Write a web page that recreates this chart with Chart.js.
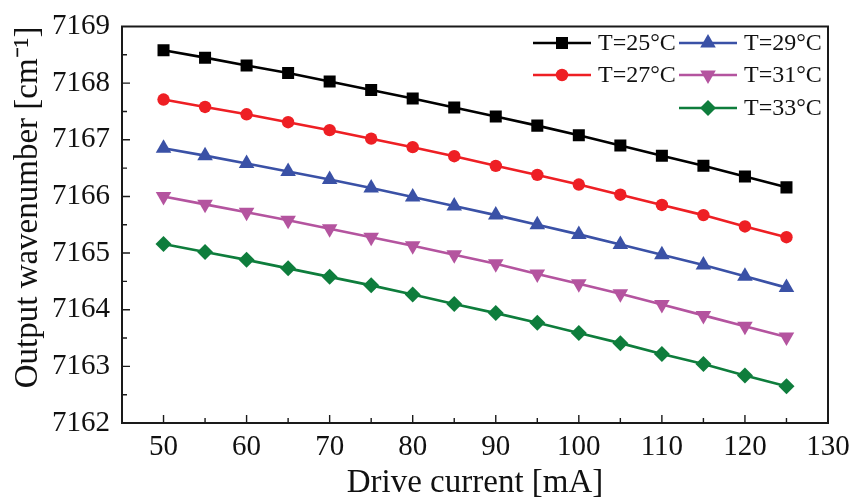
<!DOCTYPE html>
<html>
<head>
<meta charset="utf-8">
<script src="https://cdn.jsdelivr.net/npm/chart.js@4.4.1/dist/chart.umd.min.js"></script>
<style>
  html, body { margin: 0; padding: 0; background: #fff; }
  #wrap { width: 854px; height: 500px; }
</style>
</head>
<body>
<div id="wrap"><canvas id="myChart" width="854" height="500"></canvas></div>
<script>
// drive current [mA]
const current = [50, 55, 60, 65, 70, 75, 80, 85, 90, 95, 100, 105, 110, 115, 120, 125];
const xTicks = [50, 60, 70, 80, 90, 100, 110, 120, 130];

// output wavenumber [cm-1] per temperature
const t25 = [7168.58, 7168.45, 7168.31, 7168.18, 7168.03, 7167.88, 7167.73, 7167.57, 7167.41, 7167.25, 7167.08, 7166.90, 7166.72, 7166.54, 7166.35, 7166.16];
const t27 = [7167.71, 7167.58, 7167.45, 7167.31, 7167.17, 7167.02, 7166.87, 7166.71, 7166.54, 7166.38, 7166.21, 7166.03, 7165.85, 7165.67, 7165.47, 7165.28];
const t29 = [7166.85, 7166.72, 7166.58, 7166.44, 7166.30, 7166.15, 7165.99, 7165.83, 7165.67, 7165.50, 7165.33, 7165.15, 7164.97, 7164.79, 7164.59, 7164.39];
const t31 = [7166.00, 7165.86, 7165.72, 7165.58, 7165.43, 7165.28, 7165.13, 7164.97, 7164.81, 7164.63, 7164.46, 7164.28, 7164.09, 7163.90, 7163.71, 7163.52];
const t33 = [7165.16, 7165.02, 7164.88, 7164.73, 7164.58, 7164.43, 7164.27, 7164.10, 7163.94, 7163.77, 7163.59, 7163.41, 7163.22, 7163.04, 7162.84, 7162.65];

const seriesNames = ['T=25°C', 'T=27°C', 'T=29°C', 'T=31°C', 'T=33°C'];

const serif = "'Liberation Serif', 'Times New Roman', serif";

function pts(arr) {
  return arr.map((v, i) => ({ x: current[i], y: v }));
}

const styles = [
  { color: '#000000', pointStyle: 'rect', radius: 8.5, rotation: 0 },
  { color: '#ee1f24', pointStyle: 'circle', radius: 6.2, rotation: 0 },
  { color: '#3a51a6', pointStyle: 'triangle', radius: 9, rotation: 0 },
  { color: '#b4549f', pointStyle: 'triangle', radius: 9, rotation: 180 },
  { color: '#0e7d3c', pointStyle: 'rectRot', radius: 8, rotation: 0 }
];

const allData = [t25, t27, t29, t31, t33];

const datasets = allData.map((d, i) => ({
  label: seriesNames[i],
  data: pts(d),
  borderColor: styles[i].color,
  backgroundColor: styles[i].color,
  borderWidth: 2.6,
  pointStyle: styles[i].pointStyle,
  pointRadius: styles[i].radius,
  pointRotation: styles[i].rotation,
  pointBorderWidth: 0,
  pointHoverRadius: styles[i].radius
}));

// frame, inward ticks and the two-column legend
const framePlugin = {
  id: 'frame',
  afterDraw(chart) {
    const ctx = chart.ctx;
    const a = chart.chartArea;
    const xs = chart.scales.x, ys = chart.scales.y;
    ctx.save();
    ctx.strokeStyle = '#1a1a1a';
    ctx.lineWidth = 2;
    ctx.strokeRect(a.left, a.top, a.right - a.left, a.bottom - a.top);

    ctx.lineWidth = 1.4;
    ctx.beginPath();
    for (let v = 50; v <= 125; v += 5) {
      const px = xs.getPixelForValue(v);
      const len = (v % 10 === 0) ? 8 : 5;
      ctx.moveTo(px, a.bottom);
      ctx.lineTo(px, a.bottom - len);
    }
    for (let v = 7162.5; v < 7169; v += 0.5) {
      const py = ys.getPixelForValue(v);
      const len = (Math.abs(v - Math.round(v)) < 0.01) ? 8 : 5;
      ctx.moveTo(a.left, py);
      ctx.lineTo(a.left + len, py);
    }
    ctx.stroke();

    // legend
    const slots = [
      [533, 43], [533, 75], [679, 43], [679, 75], [679, 108]
    ];
    ctx.font = '24px ' + serif;
    ctx.textBaseline = 'middle';
    ctx.textAlign = 'left';
    chart.data.datasets.forEach((ds, i) => {
      const [lx, ly] = slots[i];
      ctx.strokeStyle = ds.borderColor;
      ctx.lineWidth = 2.6;
      ctx.beginPath();
      ctx.moveTo(lx, ly);
      ctx.lineTo(lx + 58, ly);
      ctx.stroke();
      ctx.fillStyle = ds.backgroundColor;
      Chart.helpers.drawPoint(ctx, {
        pointStyle: ds.pointStyle,
        radius: ds.pointRadius,
        rotation: ds.pointRotation,
        borderWidth: 0
      }, lx + 29, ly);
      ctx.fillStyle = '#111';
      ctx.fillText(ds.label, lx + 65, ly + 1);
    });
    ctx.restore();
  }
};

const ctx1 = document.getElementById('myChart');

new Chart(ctx1, {
  type: 'line',
  data: { datasets: datasets },
  plugins: [framePlugin],
  options: {
    responsive: false,
    animation: false,
    layout: { padding: { top: 20, right: 26, left: 0, bottom: 0 } },
    plugins: {
      legend: { display: false },
      tooltip: { enabled: false }
    },
    scales: {
      x: {
        type: 'linear',
        min: 45,
        max: 130,
        afterBuildTicks(scale) {
          scale.ticks = xTicks.map(v => ({ value: v }));
        },
        afterFit(scale) {
          scale.height = 77;
          scale.paddingRight = 0;
          scale.paddingLeft = 0;
        },
        grid: { display: false, drawTicks: false },
        border: { display: false },
        ticks: {
          color: '#111',
          padding: 10,
          maxRotation: 0,
          font: { family: serif, size: 29, lineHeight: 1 }
        },
        title: {
          display: true,
          text: 'Drive current [mA]',
          color: '#111',
          padding: { top: 0, bottom: 0 },
          font: { family: serif, size: 33, lineHeight: 1 }
        }
      },
      y: {
        min: 7162,
        max: 7169,
        afterFit(scale) { scale.width = 122; },
        grid: { display: false, drawTicks: false },
        border: { display: false },
        ticks: {
          stepSize: 1,
          color: '#111',
          padding: 12,
          font: { family: serif, size: 29, lineHeight: 1 },
          callback: v => String(v)
        },
        title: {
          display: true,
          text: 'Output wavenumber [cm⁻¹]',
          align: 'end',
          color: '#111',
          padding: { top: 12, bottom: 0 },
          font: { family: serif, size: 33, lineHeight: 1 }
        }
      }
    }
  }
});
</script>
</body>
</html>
